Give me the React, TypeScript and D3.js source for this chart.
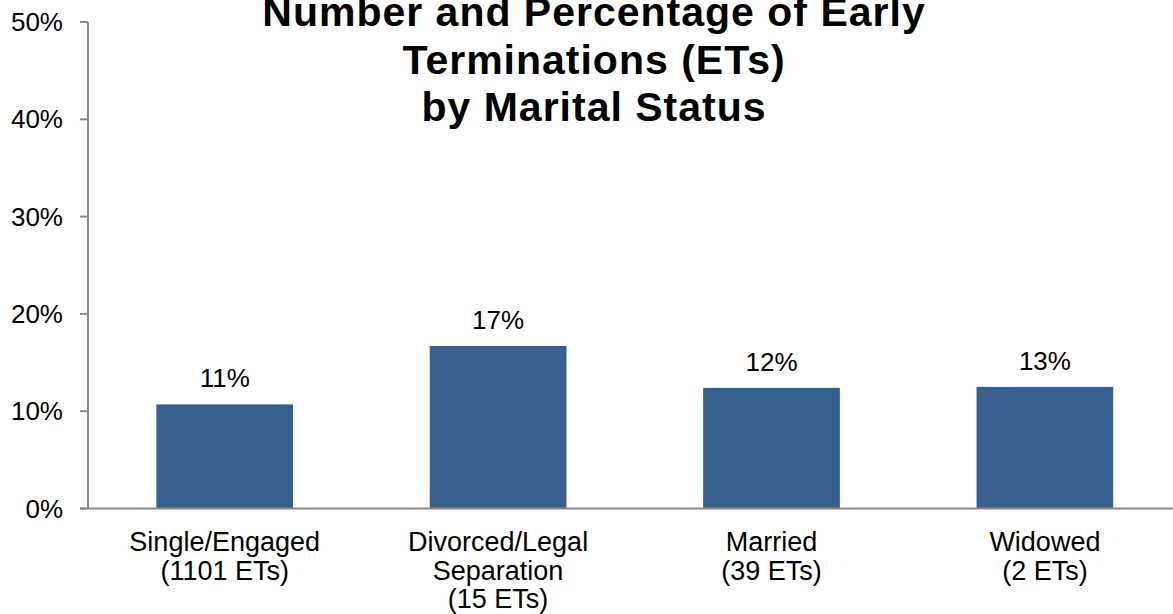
import React from "react";
import * as d3 from "d3";

const categories: string[][] = [
  ["Single/Engaged", "(1101 ETs)"],
  ["Divorced/Legal", "Separation", "(15 ETs)"],
  ["Married", "(39 ETs)"],
  ["Widowed", "(2 ETs)"],
];
const values: number[] = [10.7, 16.7, 12.4, 12.5];
const yTicks: number[] = [0, 10, 20, 30, 40, 50];
const titleLines: string[] = [
  "Number and Percentage of Early",
  "Terminations (ETs)",
  "by Marital Status",
];

const W = 1173;
const H = 614;
const left = 88;
const bottom = 508.5;
const top = 22;
const FONT = "'Liberation Sans', Arial, sans-serif";

export default function App() {
  const x = d3
    .scaleBand<number>()
    .domain(categories.map((_, i) => i))
    .range([left, left + 4 * 273.4])
    .paddingInner(0.5)
    .paddingOuter(0.25);
  const y = d3.scaleLinear().domain([0, 50]).range([bottom, top]);
  const axisColor = "#898989";

  return (
    <svg
      width={W}
      height={H}
      style={{ position: "absolute", left: 0, top: 0, background: "#fff" }}
      fontFamily={FONT}
    >
      <rect x={0} y={0} width={W} height={H} fill="#fff" />
      {/* bars */}
      {values.map((v, i) => (
        <rect
          key={i}
          x={x(i)!}
          y={y(v)}
          width={x.bandwidth()}
          height={bottom - y(v)}
          fill="#37608f"
        />
      ))}
      {/* data labels */}
      {values.map((v, i) => (
        <text
          key={"l" + i}
          x={x(i)! + x.bandwidth() / 2}
          y={y(v) - 17}
          textAnchor="middle"
          fontSize={26}
          fill="#000"
        >
          {Math.round(v) + "%"}
        </text>
      ))}
      {/* y axis */}
      <line x1={left} x2={left} y1={top} y2={bottom} stroke={axisColor} strokeWidth={2} />
      {yTicks.map((t) => (
        <g key={"t" + t}>
          <line x1={left - 8} x2={left} y1={y(t)} y2={y(t)} stroke={axisColor} strokeWidth={2} />
          <text
            x={63}
            y={y(t)}
            dy="0.35em"
            textAnchor="end"
            fontSize={26}
            fill="#000"
          >
            {t + "%"}
          </text>
        </g>
      ))}
      {/* x axis */}
      <line x1={left - 8} x2={W} y1={bottom} y2={bottom} stroke={axisColor} strokeWidth={2} />
      {categories.map((lines, i) => (
        <text
          key={"c" + i}
          textAnchor="middle"
          fontSize={27}
          fill="#000"
        >
          {lines.map((ln, j) => (
            <tspan key={j} x={x(i)! + x.bandwidth() / 2} y={551 + j * 28.5}>
              {ln}
            </tspan>
          ))}
        </text>
      ))}
      {/* title */}
      <text textAnchor="middle" fontWeight="bold" fontSize={41} letterSpacing={1} fill="#000">
        {titleLines.map((ln, j) => (
          <tspan key={j} x={594} y={26 + j * 47.5}>
            {ln}
          </tspan>
        ))}
      </text>
    </svg>
  );
}
